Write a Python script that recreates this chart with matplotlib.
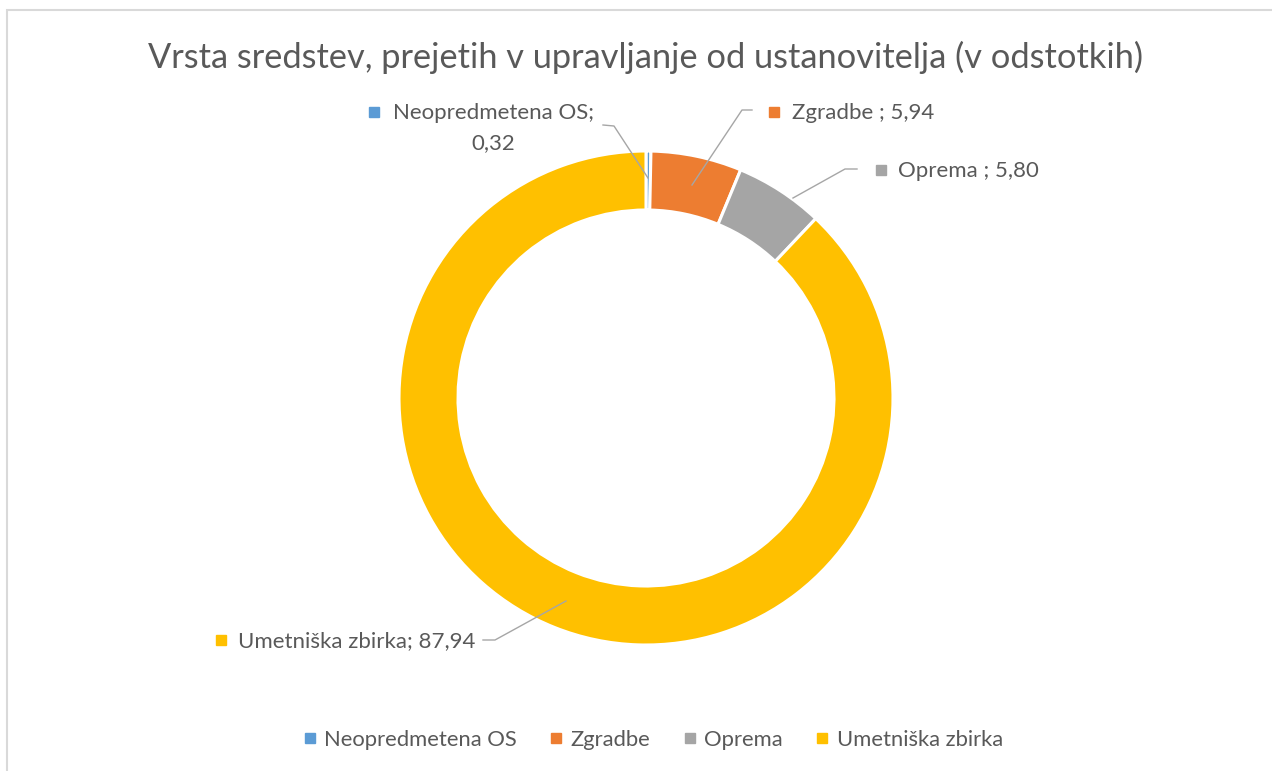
import matplotlib
matplotlib.use("Agg")
import matplotlib.pyplot as plt
from matplotlib.lines import Line2D
from matplotlib.patches import Rectangle

categories = ["Neopredmetena OS", "Zgradbe", "Oprema", "Umetniška zbirka"]
values = [0.32, 5.94, 5.80, 87.94]
value_labels = ["0,32", "5,94", "5,80", "87,94"]
colors = ["#5B9BD5", "#ED7D31", "#A5A5A5", "#FFC000"]
title = "Vrsta sredstev, prejetih v upravljanje od ustanovitelja (v odstotkih)"

W, H = 1272, 771
plt.rcParams['font.family'] = ['Lato', 'DejaVu Sans']
TXT = "#595959"
LINE = "#A6A6A6"

fig = plt.figure(figsize=(W / 100, H / 100), dpi=100)
ax = fig.add_axes([0, 0, 1, 1])

def Y(y):
    return H - y

ax.pie(values, colors=colors, startangle=90, counterclock=False,
       center=(646, Y(398)), radius=247, frame=True,
       wedgeprops=dict(width=59, edgecolor="white", linewidth=2.2))
ax.set_xlim(0, W)
ax.set_ylim(0, H)
ax.set_aspect('equal')
ax.axis('off')

# chart frame (cropped at right and bottom)
ax.add_patch(Rectangle((7, Y(H + 20)), W + 20, H + 10, fill=False,
                       edgecolor="#D9D9D9", linewidth=1.5))

ax.text(646, Y(57), title, ha='center', va='center', fontsize=24.75, color=TXT)

fs = 16
# leader lines
leaders = [
    [(603, 125), (614, 126), (648, 178)],
    [(752, 110), (742, 110), (692, 185)],
    [(857, 169), (845, 169), (793, 198)],
    [(483, 640), (495, 640), (566, 601)],
]
for pts in leaders:
    ax.plot([p[0] for p in pts], [Y(p[1]) for p in pts], color=LINE, lw=1.0)

def sq(x, y, c):
    ax.plot([x], [Y(y)], marker='s', ms=6.5, color=c, linestyle='none')

# Neopredmetena OS label (two lines)
sq(374, 112, colors[0])
ax.text(393, Y(113), categories[0] + ";", ha='left', va='center', fontsize=fs, color=TXT)
ax.text(493, Y(143), value_labels[0], ha='center', va='center', fontsize=fs, color=TXT)

sq(774, 112, colors[1])
ax.text(792, Y(113), categories[1] + " ; " + value_labels[1], ha='left', va='center', fontsize=fs, color=TXT)

sq(881, 170, colors[2])
ax.text(898, Y(171), categories[2] + " ; " + value_labels[2], ha='left', va='center', fontsize=fs, color=TXT)

sq(221, 640, colors[3])
ax.text(238, Y(641), categories[3] + "; " + value_labels[3], ha='left', va='center', fontsize=fs, color=TXT)

handles = [Line2D([], [], marker='s', ms=6.5, color=c, linestyle='none') for c in colors]
leg = ax.legend(handles, categories, loc='center', bbox_to_anchor=(653 / W, 1 - 740 / H),
                bbox_transform=fig.transFigure, ncol=4, frameon=False,
                fontsize=15.8, handlelength=0.6, handletextpad=0.35, columnspacing=1.5,
                labelcolor=TXT)

fig.savefig("out.png", dpi=100, facecolor="white")
